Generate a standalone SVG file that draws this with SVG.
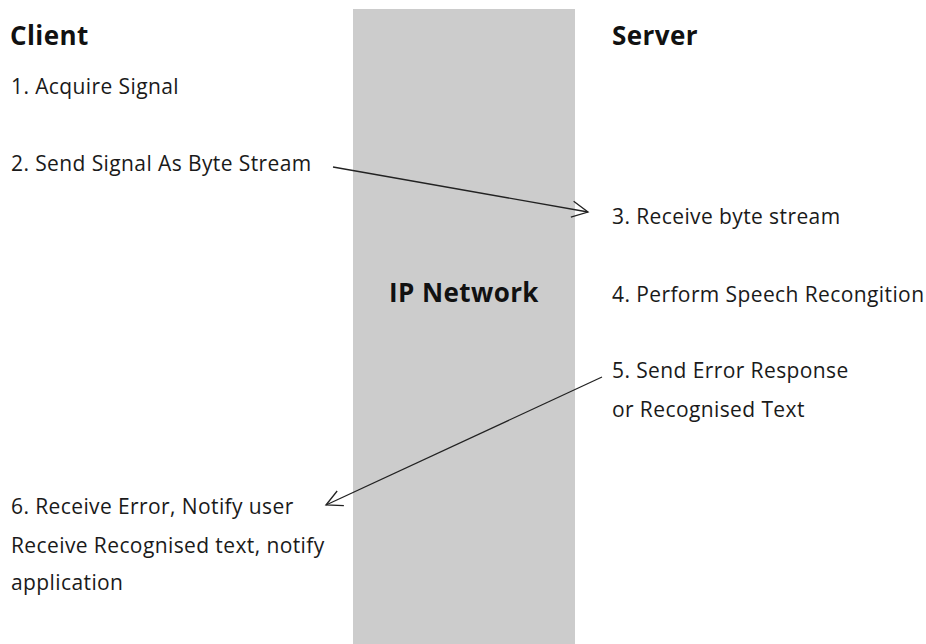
<svg xmlns="http://www.w3.org/2000/svg" width="926" height="644" viewBox="0 0 926 644">
<style>
.t{font-family:"Open Sans","Liberation Sans",sans-serif;font-size:21px;letter-spacing:0.4px;fill:#1a1a1a}
.h{font-family:"Open Sans","Liberation Sans",sans-serif;font-size:26px;letter-spacing:0.4px;font-weight:bold;fill:#111}
.c{fill:none;stroke:#222;stroke-width:1.3}
</style>
<defs>
<marker id="ah" viewBox="0 0 20 20" refX="18" refY="10" markerWidth="20" markerHeight="20" markerUnits="userSpaceOnUse" orient="auto">
<path d="M2,2 L18,10 L2,18" fill="none" stroke="#222" stroke-width="1.3"/>
</marker>
</defs>
<rect width="926" height="644" fill="#fff"/>
<g id="network">
<rect x="353" y="9" width="222" height="635" fill="#cccccc"/>
<text class="h" x="464" y="302" text-anchor="middle">IP Network</text>
</g>
<g id="client"><text class="h" x="10" y="45">Client</text></g>
<g id="server"><text class="h" x="612" y="45">Server</text></g>
<g id="step1"><text class="t" x="11" y="94">1. Acquire Signal</text></g>
<g id="step2"><text class="t" x="11" y="171">2. Send Signal As Byte Stream</text></g>
<g id="step3"><text class="t" x="612" y="224">3. Receive byte stream</text></g>
<g id="step4"><text class="t" x="612" y="302">4. Perform Speech Recongition</text></g>
<g id="step5"><text class="t" x="612" y="378">5. Send Error Response</text><text class="t" x="612" y="417">or Recognised Text</text></g>
<g id="step6"><text class="t" x="11" y="514">6. Receive Error, Notify user</text><text class="t" x="11" y="553">Receive Recognised text, notify</text><text class="t" x="11" y="590">application</text></g>
<g id="connectors">
<line class="c" x1="333" y1="167" x2="588" y2="212" marker-end="url(#ah)"/>
<line class="c" x1="602" y1="377" x2="326" y2="505" marker-end="url(#ah)"/>
</g>
</svg>
